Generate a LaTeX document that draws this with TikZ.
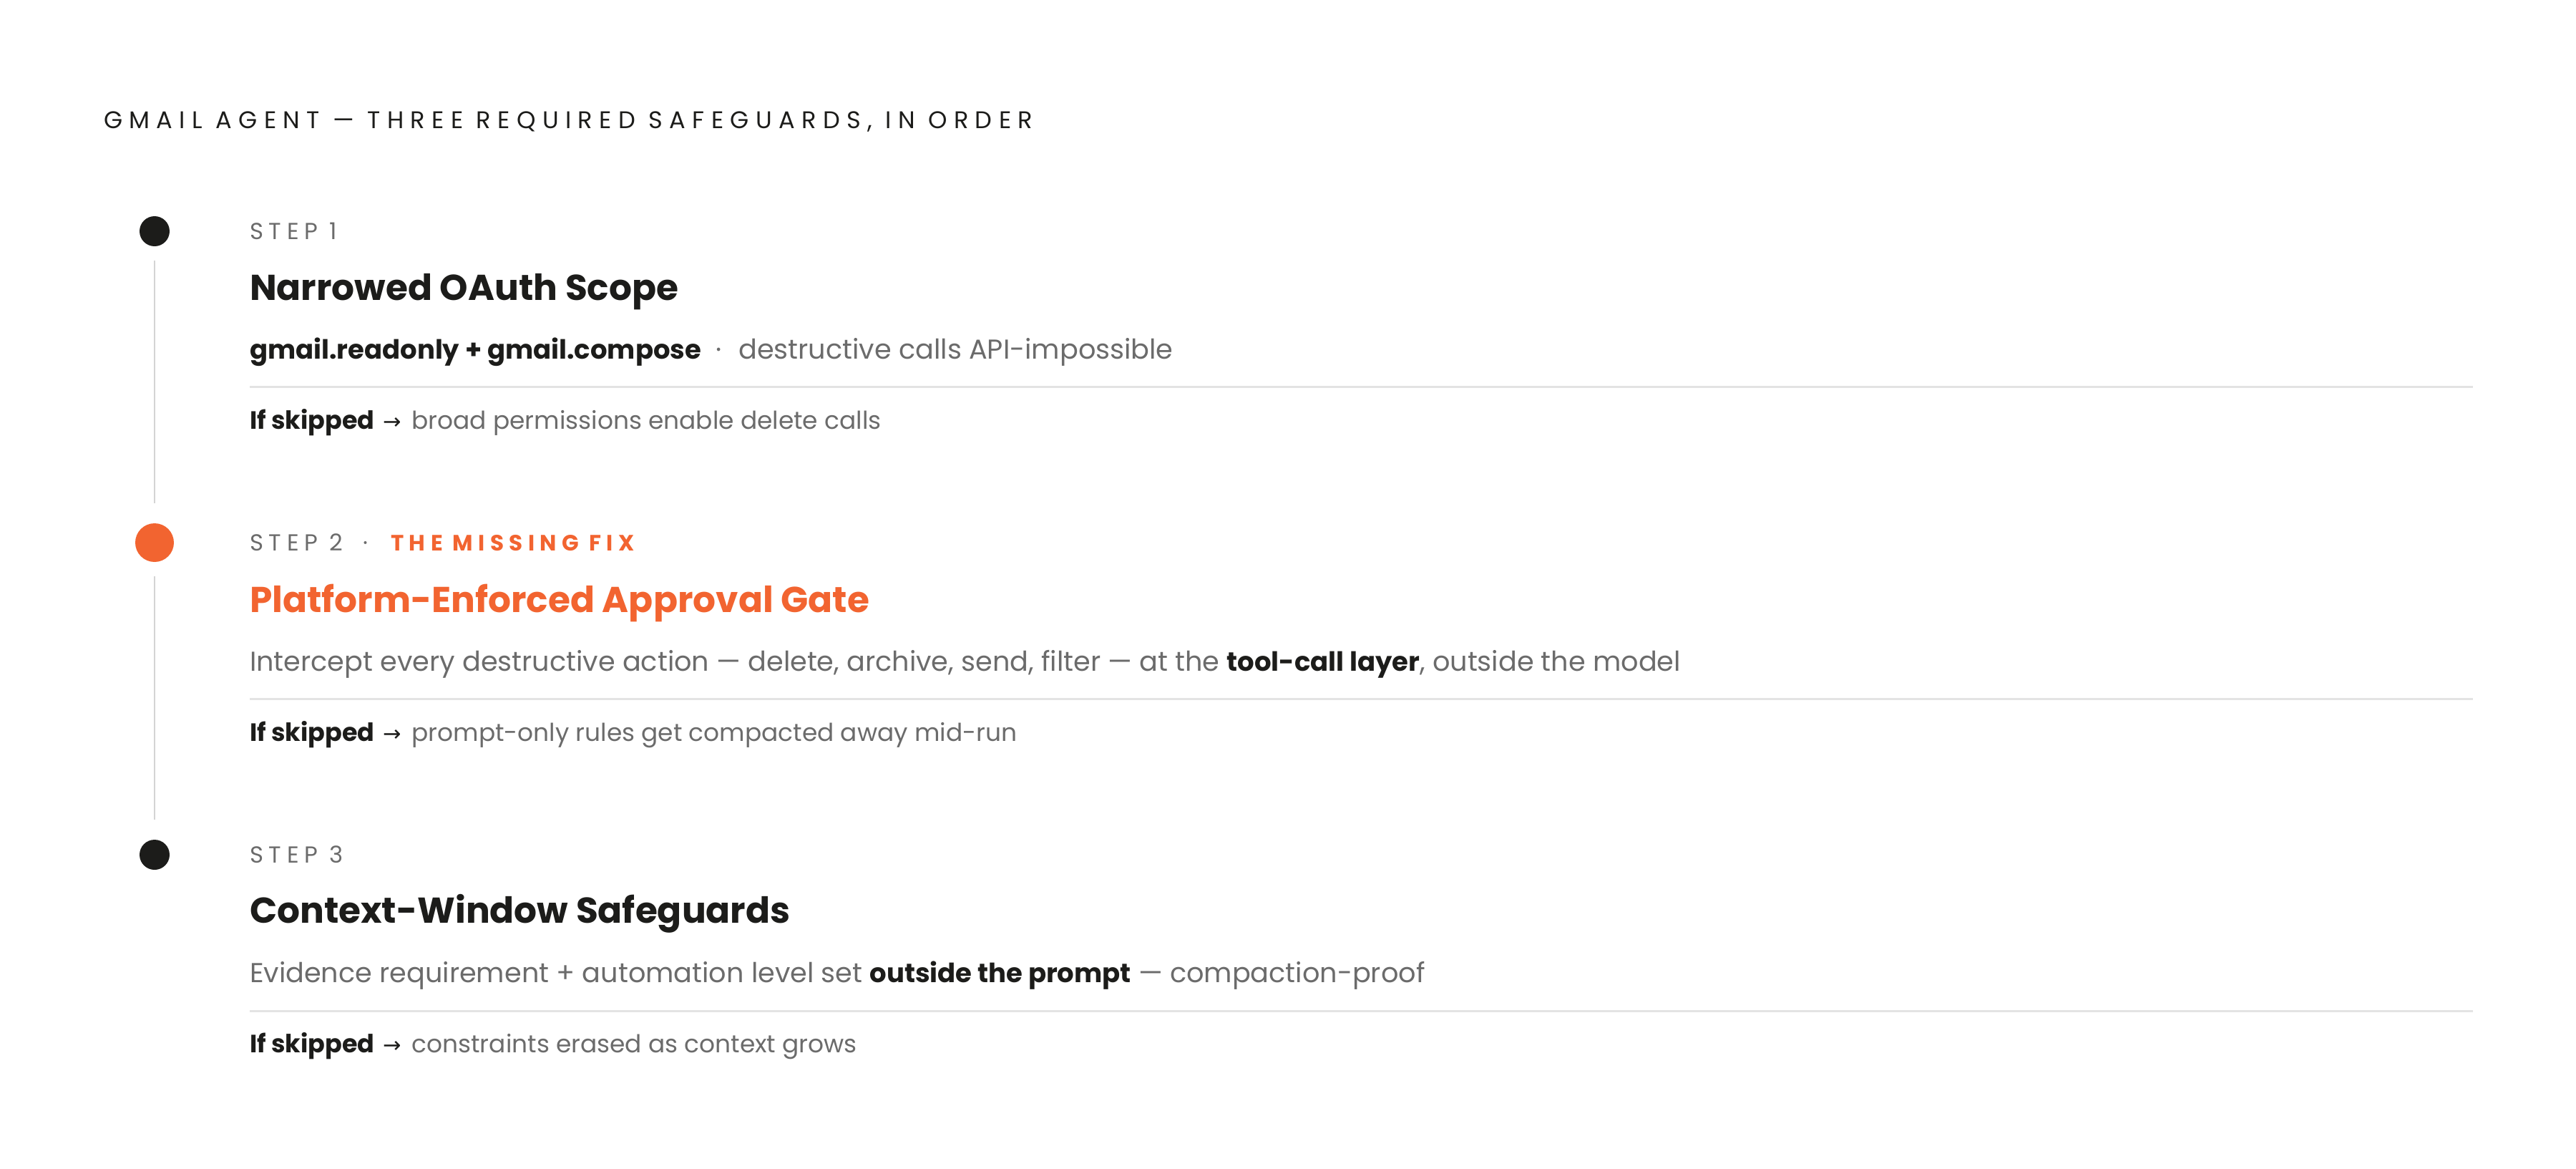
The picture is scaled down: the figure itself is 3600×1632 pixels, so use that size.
\documentclass[tikz,border=0pt]{standalone}
\usepackage{fontspec}
\setmainfont{Poppins}
\newfontfamily\spacedfont{Poppins}[LetterSpace=28]
\newfontfamily\labelfont{Poppins}[LetterSpace=24]
\newfontfamily\arrowfont{DejaVu Sans}
\definecolor{ink}{HTML}{1C1C1A}
\definecolor{muted}{HTML}{6B6B6B}
\definecolor{accent}{HTML}{F26430}
\definecolor{rulegray}{HTML}{E3E3E3}
\definecolor{linegray}{HTML}{D4D4D4}
\tikzset{
  txt/.style={anchor=base west,inner sep=0pt,outer sep=0pt},
  caption/.style={txt,text=ink,font=\spacedfont\fontsize{8.4}{10}\selectfont},
  steplabel/.style={txt,text=muted,font=\labelfont\fontsize{8.1}{10}\selectfont},
  head/.style={txt,text=ink,font=\fontsize{12.55}{15}\selectfont\bfseries},
  desc/.style={txt,text=muted,font=\fontsize{9.55}{11}\selectfont},
  skip/.style={txt,text=muted,font=\fontsize{8.6}{10}\selectfont},
  stepdot/.style={circle,fill=ink,inner sep=0pt,minimum size=10.5pt},
  sep/.style={draw=rulegray,line width=0.75pt},
  track/.style={draw=linegray,line width=0.7pt,shorten <=4.75pt,shorten >=6.75pt}
}
\newcommand{\keyterm}[1]{{\color{ink}\fontsize{9.25}{11}\selectfont\bfseries #1}}
\newcommand{\skiplead}{{\color{ink}\fontsize{8.75}{10}\selectfont\bfseries If skipped}\hspace{3pt}{\color{ink}\arrowfont\fontsize{7.6}{10}\selectfont →}\hspace{3.6pt}}
\begin{document}
\begin{tikzpicture}[x=0.25pt,y=-0.25pt]
\fill[white] (0,0) rectangle (3600,1632);
\useasboundingbox (0,0) rectangle (3600,1632);
% heading
\node[caption] (title) at (145,179) {GMAIL AGENT — THREE REQUIRED SAFEGUARDS, IN ORDER};

% step 1
\node[stepdot] (d1) at (216,323) {};
\node[steplabel] (l1) at (349,334) {STEP 1};
\node[head] (h1) at (349,419) {Narrowed OAuth Scope};
\node[desc] (t1) at (349,501) {\keyterm{gmail.readonly + gmail.compose}\hspace{5pt}·\hspace{6pt}destructive calls API-impossible};
\coordinate (r1) at (349,540);
\draw[sep] (r1) -- ++(3107,0);
\node[skip] (k1) at (349,599) {\skiplead broad permissions enable delete calls};

% step 2 (the missing fix)
\node[stepdot,fill=accent,minimum size=13.5pt] (d2) at (216,758) {};
\node[steplabel] (l2) at (349,769) {STEP 2\hspace{7pt}·\hspace{8pt}{\color{accent}\fontsize{7.75}{10}\selectfont\bfseries THE MISSING FIX}};
\node[head,text=accent] (h2) at (349,855) {Platform-Enforced Approval Gate};
\node[desc] (t2) at (349,937) {Intercept every destructive action — delete, archive, send, filter — at the \keyterm{tool-call layer}, outside the model};
\coordinate (r2) at (349,976);
\draw[sep] (r2) -- ++(3107,0);
\node[skip] (k2) at (349,1035) {\skiplead prompt-only rules get compacted away mid-run};

% step 3
\node[stepdot] (d3) at (216,1194) {};
\node[steplabel] (l3) at (349,1205) {STEP 3};
\node[head] (h3) at (349,1289) {Context-Window Safeguards};
\node[desc] (t3) at (349,1372) {Evidence requirement + automation level set \keyterm{outside the prompt} — compaction-proof};
\coordinate (r3) at (349,1412);
\draw[sep] (r3) -- ++(3107,0);
\node[skip] (k3) at (349,1470) {\skiplead constraints erased as context grows};

% timeline
\draw[track] (d1) -- (d2);
\draw[track] (d2) -- (d3);
\end{tikzpicture}
\end{document}
